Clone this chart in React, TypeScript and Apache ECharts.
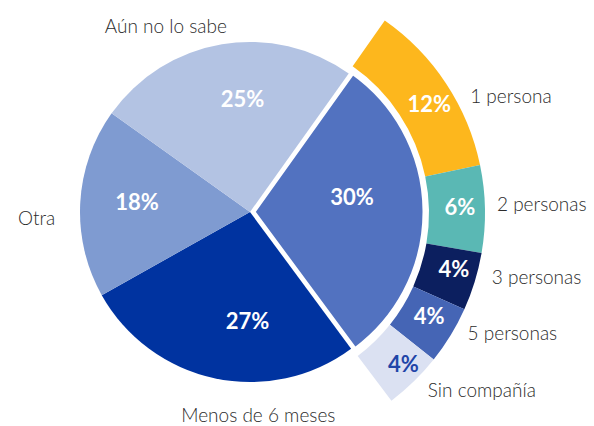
import React, { useEffect, useRef } from "react";
import * as echarts from "echarts";

// Main pie: clockwise from the exploded slice
const mainCategories = ["Con compañía", "Menos de 6 meses", "Otra", "Aún no lo sabe"];
const mainValues = [30, 27, 18, 25];
// Breakdown of the exploded slice (outer ring)
const ringCategories = ["1 persona", "2 personas", "3 personas", "5 personas", "Sin compañía"];
const ringValues = [12, 6, 4, 4, 4];

const mainColors = ["#5272c0", "#0033a0", "#7f9bd1", "#b3c3e3"];
const ringColors = ["#fdb71d", "#5ab8b4", "#0c1f5f", "#4565b5", "#dbe1f2"];
const ringLabelColors = ["#ffffff", "#ffffff", "#ffffff", "#ffffff", "#1f45a8"];

// label nudges (layout only)
const mainPctNudge = [
  [10, -15],
  [16, 22],
  [-25, -6],
  [7, -27],
];
const mainNameNudge = [
  [0, 0],
  [126, 36],
  [-20, 15],
  [10, -19],
];
const ringPctNudge = [
  [4, 6],
  [0, -3],
  [3, -6],
  [0, -7],
  [7, 0],
];
const ringNameNudge = [
  [19, 12],
  [7, -5],
  [12, -5],
  [12, -3],
  [9, 8],
];

const FONT = "Lato, 'Noto Sans', sans-serif";
const MAIN_START = 54.5;
const RING_START = 55;
const CENTER = [250, 212];
const RING_CENTER = [250, 213];
const TOTAL = mainValues.reduce((a, b) => a + b, 0);
const ringSum = ringValues.reduce((a, b) => a + b, 0);

const hidden = {
  value: TOTAL - ringSum,
  name: "",
  itemStyle: { color: "rgba(0,0,0,0)" },
  label: { show: false },
  labelLine: { show: false },
};

const nudge = (arr: number[][]) => (p: any) =>
  p.dataIndex < arr.length ? { dx: arr[p.dataIndex][0], dy: arr[p.dataIndex][1] } : {};

export default function App() {
  const ref = useRef<HTMLDivElement>(null);
  useEffect(() => {
    document.body.style.margin = "0";
    if (!ref.current) return;
    const chart = echarts.init(ref.current, undefined, { renderer: "svg" });
    const pctLabel = {
      show: true,
      position: "inside",
      formatter: "{c}%",
      color: "#fff",
      fontFamily: FONT,
      fontWeight: "bold",
      fontSize: 22,
    };
    const nameLabel = {
      show: true,
      position: "outside",
      formatter: "{b}",
      color: "#2b2b2b",
      fontFamily: FONT,
      fontSize: 19,
      lineHeight: 19,
      fontWeight: 300,
    };
    const common = {
      type: "pie",
      clockwise: true,
      avoidLabelOverlap: false,
      emphasis: { disabled: true },
      silent: true,
    };
    chart.setOption({
      animation: false,
      series: [
        {
          ...common,
          center: CENTER,
          radius: [0, 170],
          startAngle: MAIN_START,
          selectedMode: "single",
          selectedOffset: 4,
          label: pctLabel,
          labelLine: { show: false },
          labelLayout: nudge(mainPctNudge),
          data: mainValues.map((v, i) => ({
            value: v,
            name: mainCategories[i],
            selected: i === 0,
            itemStyle:
              i === 0
                ? { color: mainColors[i], borderColor: "#fff", borderWidth: 3 }
                : { color: mainColors[i] },
          })),
        },
        {
          ...common,
          center: CENTER,
          radius: [0, 170],
          startAngle: MAIN_START,
          itemStyle: { color: "rgba(0,0,0,0)" },
          label: nameLabel,
          labelLine: { show: false, length: 0, length2: 0 },
          labelLayout: nudge(mainNameNudge),
          data: mainValues.map((v, i) => ({
            value: v,
            name: mainCategories[i],
            label: { show: i !== 0 },
          })),
        },
        {
          ...common,
          center: RING_CENTER,
          radius: [179, 235],
          startAngle: RING_START,
          label: pctLabel,
          labelLine: { show: false },
          labelLayout: nudge(ringPctNudge),
          data: [
            ...ringValues.map((v, i) => ({
              value: v,
              name: ringCategories[i],
              itemStyle: { color: ringColors[i] },
              label: { color: ringLabelColors[i] },
            })),
            hidden,
          ],
        },
        {
          ...common,
          center: RING_CENTER,
          radius: [179, 235],
          startAngle: RING_START,
          itemStyle: { color: "rgba(0,0,0,0)" },
          label: nameLabel,
          labelLine: { show: false, length: 0, length2: 0 },
          labelLayout: nudge(ringNameNudge),
          data: [
            ...ringValues.map((v, i) => ({ value: v, name: ringCategories[i] })),
            hidden,
          ],
        },
      ],
    });
    return () => chart.dispose();
  }, []);
  return <div ref={ref} style={{ width: 594, height: 426 }} />;
}
